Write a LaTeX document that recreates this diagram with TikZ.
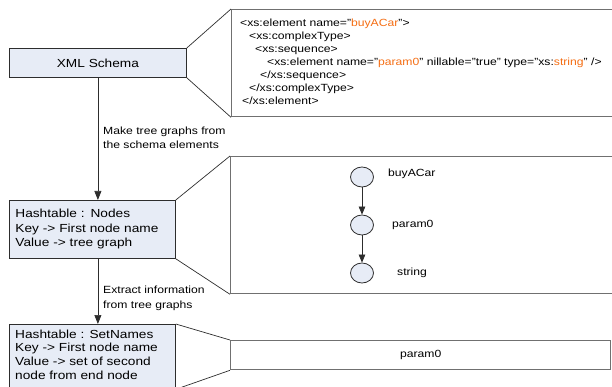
\documentclass[tikz,border=0pt]{standalone}
\usepackage{fontspec}
\setmainfont[FakeStretch=1.17]{Liberation Sans}
\usetikzlibrary{arrows.meta,shapes.geometric}
\definecolor{boxfill}{RGB}{231,236,246}
\definecolor{codeorange}{RGB}{245,110,20}
\definecolor{framegray}{RGB}{112,112,112}
\definecolor{edgegray}{RGB}{45,45,45}
\newcommand{\hl}[1]{\textcolor{codeorange}{#1}}
\begin{document}
\begin{tikzpicture}[x=1pt,y=-1pt,
  small/.style={font=\fontsize{10.4}{14.5}\selectfont},
  big/.style={font=\fontsize{11.7}{14.5}\selectfont},
  box/.style={draw=edgegray, line width=0.8pt, fill=boxfill, inner sep=0pt, anchor=north west, big},
  panel/.style={draw=framegray, line width=1.3pt, fill=white, inner sep=0pt, anchor=north west},
  link/.style={draw=edgegray, line width=0.7pt},
  flow/.style={link, -{Triangle[length=9pt,width=7pt]}},
  treeflow/.style={link, -{Triangle[length=8pt,width=6.5pt]}},
  vertex/.style={ellipse, draw=edgegray, line width=0.8pt, fill=boxfill, minimum width=23pt, minimum height=20pt, inner sep=0pt},
  caption/.style={small, inner sep=0pt, anchor=west}]
\useasboundingbox (0,0) rectangle (612,387);
\clip (0,0) rectangle (612,387);

% left column: the three stages
\node[box, minimum width=177pt, minimum height=29pt] (b1) at (9,48) {XML Schema};
\node[box, minimum height=58pt, text width=154pt, inner xsep=6pt, align=left] (b2) at (9,200)
  {Hashtable : Nodes\\Key -> First node name\\Value -> tree graph};
\node[box, minimum width=166pt, minimum height=64.5pt] (b3) at (9,324) {};
\node[big, font=\fontsize{11.7}{13.7}\selectfont, inner sep=0pt, anchor=north west, align=left] (b3text) at (15,329.5)
  {Hashtable : SetNames\\Key -> First node name\\Value -> set of second\\node from end node};

% flow between the stages
\draw[flow] (b1.south) -- (b1.south |- b2.north);
\draw[flow] (b1.south |- b2.south) -- (b1.south |- b3.north);
\node[small, inner sep=0pt, anchor=north west, align=left] (m1) at (103,126.5)
  {Make tree graphs from\\the schema elements};
\node[small, inner sep=0pt, anchor=north west, align=left] (m2) at (103,286)
  {Extract information\\from tree graphs};

% detail panels
\node[panel, minimum width=400pt, minimum height=107pt] (c1) at (231,9) {};
\node[panel, minimum width=400pt, minimum height=137pt] (c2) at (230,156) {};
\node[panel, minimum width=380pt, minimum height=29pt] (c3) at (230,340) {};

\draw[link] (b1.north east) -- (c1.north west);
\draw[link] (b1.south east) -- (c1.south west);
\draw[link] (b2.north east) -- (c2.north west);
\draw[link] (b2.south east) -- (c2.south west);
\draw[link] (b3.north east) -- (c3.north west);
\draw[link] (b3.south east) -- (c3.south west);

% schema source
\node[small, font=\fontsize{10.4}{13}\selectfont, inner sep=0pt, anchor=north west, align=left] (code) at (240,18.5)
  {<xs:element name="\hl{buyACar}">\\
   \hspace*{9pt}<xs:complexType>\\
   \hspace*{15pt}<xs:sequence>\\
   \hspace*{27pt}<xs:element name="\hl{param0}" nillable="true" type="xs:\hl{string}" />\\
   \hspace*{20pt}</xs:sequence>\\
   \hspace*{9pt}</xs:complexType>\\
   \hspace*{2pt}</xs:element>};

% tree graph
\node[vertex] (v1) at (362,177) {};
\node[vertex] (v2) at (362,225) {};
\node[vertex] (v3) at (362,273) {};
\draw[treeflow] (v1) -- (v2);
\draw[treeflow] (v2) -- (v3);
\node[caption] (t1) at (388,174) {buyACar};
\node[caption] (t2) at (392,225) {param0};
\node[caption] (t3) at (397,273) {string};

% set of names
\node[small] (s1) at (c3.center) {param0};
\end{tikzpicture}
\end{document}
